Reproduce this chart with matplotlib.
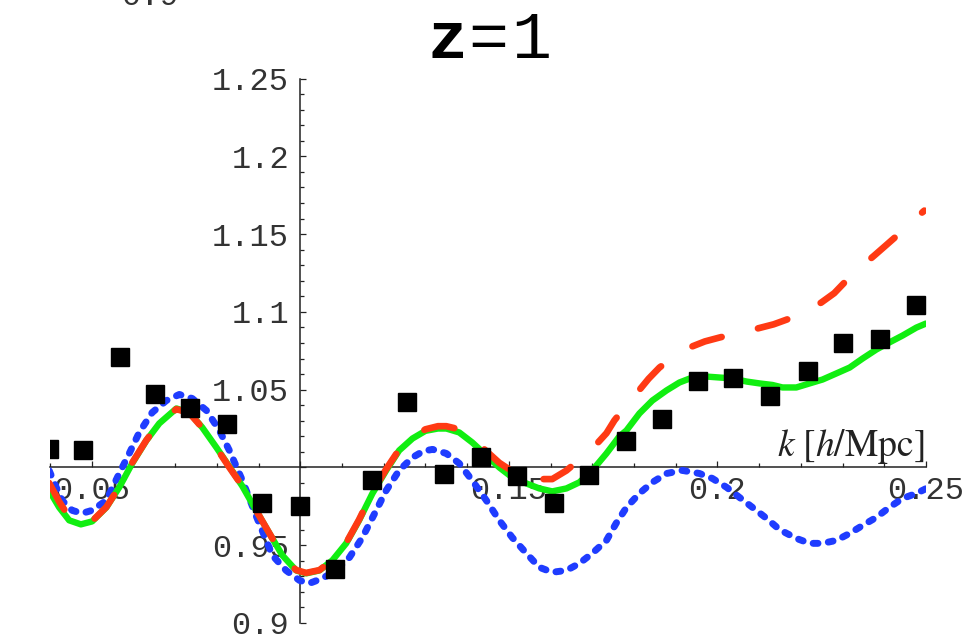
import matplotlib
matplotlib.use('Agg')
import matplotlib.pyplot as plt
from matplotlib.ticker import MultipleLocator

plt.rcParams['mathtext.fontset'] = 'stix'

# ---------------- data ----------------
# measured points (black squares)
pts_k = [0.0398, 0.0480, 0.0568, 0.0652, 0.0736, 0.0825, 0.0909, 0.1000,
         0.1084, 0.1173, 0.1257, 0.1345, 0.1434, 0.1520, 0.1609, 0.1693,
         0.1782, 0.1866, 0.1954, 0.2038, 0.2127, 0.2218, 0.2300, 0.2389, 0.2475]
pts_r = [1.0120, 1.0115, 1.0710, 1.0474, 1.0380, 1.0280, 0.9770, 0.9750,
         0.9350, 0.9917, 1.0420, 0.9960, 1.0064, 0.9947, 0.9770, 0.9949,
         1.0167, 1.0310, 1.0558, 1.0577, 1.0460, 1.0622, 1.0800, 1.0827, 1.1045]

# green solid curve
green_k = [0.0398, 0.0422, 0.0446, 0.0474, 0.0501, 0.0535, 0.0566, 0.0597, 0.0631,
           0.0662, 0.0703, 0.0734, 0.0765, 0.0799, 0.0830, 0.0861, 0.0894, 0.0926,
           0.0957, 0.0990, 0.1014, 0.1046, 0.1077, 0.1110, 0.1141, 0.1173, 0.1206,
           0.1237, 0.1269, 0.1300, 0.1330, 0.1350, 0.1381, 0.1412, 0.1446, 0.1477,
           0.1508, 0.1542, 0.1573, 0.1604, 0.1638, 0.1669, 0.1700, 0.1734, 0.1765,
           0.1782, 0.1813, 0.1844, 0.1878, 0.1909, 0.1940, 0.1974, 0.2005, 0.2036,
           0.2070, 0.2101, 0.2132, 0.2156, 0.2189, 0.2221, 0.2252, 0.2285, 0.2317,
           0.2348, 0.2381, 0.2412, 0.2444, 0.2477, 0.2500]
green_r = [0.9852, 0.9743, 0.9660, 0.9634, 0.9653, 0.9743, 0.9872, 1.0026, 1.0173,
           1.0283, 1.0379, 1.0353, 1.0257, 1.0128, 1.0005, 0.9880, 0.9724, 0.9576,
           0.9435, 0.9338, 0.9319, 0.9338, 0.9403, 0.9512, 0.9660, 0.9833, 0.9981,
           1.0109, 1.0186, 1.0235, 1.0250, 1.0250, 1.0225, 1.0161, 1.0077, 1.0000,
           0.9936, 0.9897, 0.9865, 0.9846, 0.9865, 0.9904, 0.9981, 1.0090, 1.0200,
           1.0238, 1.0347, 1.0430, 1.0495, 1.0546, 1.0578, 1.0584, 1.0578, 1.0572,
           1.0552, 1.0540, 1.0530, 1.0514, 1.0514, 1.0540, 1.0565, 1.0604, 1.0642,
           1.0700, 1.0758, 1.0803, 1.0848, 1.0899, 1.0925]

# red dashed curve
red_k = [0.0398, 0.0422, 0.0446, 0.0474, 0.0501, 0.0535, 0.0566, 0.0597, 0.0631,
         0.0662, 0.0703, 0.0734, 0.0765, 0.0799, 0.0830, 0.0861, 0.0894, 0.0926,
         0.0957, 0.0990, 0.1014, 0.1046, 0.1077, 0.1110, 0.1141, 0.1173, 0.1206,
         0.1237, 0.1269, 0.1300, 0.1330, 0.1350, 0.1381, 0.1412, 0.1446, 0.1477,
         0.1508, 0.1542, 0.1573, 0.1604, 0.1638, 0.1669, 0.1700, 0.1734, 0.1753,
         0.1782, 0.1808, 0.1835, 0.1861, 0.1895, 0.1933, 0.1970, 0.2005, 0.2050,
         0.2096, 0.2135, 0.2173, 0.2210, 0.2249, 0.2280, 0.2309, 0.2340, 0.2376,
         0.2405, 0.2436, 0.2466, 0.2496]
red_r = [0.9900, 0.9780, 0.9680, 0.9640, 0.9655, 0.9745, 0.9875, 1.0030, 1.0175,
         1.0285, 1.0375, 1.0350, 1.0255, 1.0125, 1.0000, 0.9880, 0.9724, 0.9576,
         0.9435, 0.9340, 0.9322, 0.9340, 0.9405, 0.9515, 0.9665, 0.9840, 0.9990,
         1.0115, 1.0195, 1.0245, 1.0265, 1.0265, 1.0245, 1.0185, 1.0105, 1.0030,
         0.9975, 0.9945, 0.9925, 0.9925, 0.9980, 1.0050, 1.0120, 1.0220, 1.0302,
         1.0400, 1.0482, 1.0570, 1.0642, 1.0710, 1.0771, 1.0810, 1.0835, 1.0865,
         1.0893, 1.0920, 1.0957, 1.1000, 1.1060, 1.1120, 1.1201, 1.1280, 1.1362,
         1.1430, 1.1503, 1.1580, 1.1651]

# blue dotted curve
blue_k = [0.0398, 0.0415, 0.0429, 0.0453, 0.0477, 0.0501, 0.0535, 0.0566, 0.0590,
          0.0614, 0.0645, 0.0679, 0.0710, 0.0741, 0.0775, 0.0806, 0.0830, 0.0861,
          0.0894, 0.0933, 0.0966, 0.0998, 0.1022, 0.1053, 0.1086, 0.1118, 0.1149,
          0.1182, 0.1206, 0.1237, 0.1269, 0.1295, 0.1317, 0.1350, 0.1381, 0.1412,
          0.1446, 0.1477, 0.1508, 0.1542, 0.1573, 0.1604, 0.1638, 0.1669, 0.1700,
          0.1734, 0.1757, 0.1782, 0.1813, 0.1844, 0.1878, 0.1916, 0.1957, 0.1988,
          0.2022, 0.2053, 0.2084, 0.2118, 0.2149, 0.2189, 0.2221, 0.2252, 0.2285,
          0.2317, 0.2348, 0.2381, 0.2412, 0.2444, 0.2477, 0.2501]
blue_r = [0.9980, 0.9872, 0.9788, 0.9724, 0.9705, 0.9724, 0.9788, 0.9961, 1.0090,
          1.0225, 1.0353, 1.0430, 1.0469, 1.0443, 1.0366, 1.0238, 1.0109, 0.9917,
          0.9690, 0.9435, 0.9338, 0.9274, 0.9255, 0.9287, 0.9338, 0.9422, 0.9550,
          0.9724, 0.9852, 0.9981, 1.0064, 1.0105, 1.0116, 1.0090, 1.0026, 0.9917,
          0.9788, 0.9660, 0.9550, 0.9448, 0.9358, 0.9326, 0.9338, 0.9383, 0.9448,
          0.9531, 0.9640, 0.9743, 0.9833, 0.9904, 0.9961, 0.9981, 0.9961, 0.9929,
          0.9872, 0.9807, 0.9743, 0.9672, 0.9600, 0.9544, 0.9512, 0.9512, 0.9531,
          0.9576, 0.9627, 0.9679, 0.9743, 0.9801, 0.9833, 0.9865]

xtick_vals = [0.05, 0.10, 0.15, 0.20, 0.25]
xtick_labels = ['0.05', '', '0.15', '0.2', '0.25']
ytick_vals = [0.90, 0.95, 1.00, 1.05, 1.10, 1.15, 1.20, 1.25]
ytick_labels = ['0.9', '0.95', '', '1.05', '1.1', '1.15', '1.2', '1.25']

title_parts = ['z', '=', '1']
xlabel = r'$k\ [h/\mathrm{Mpc}]$'

# ---------------- figure ----------------
W, H = 973, 638
fig = plt.figure(figsize=(W / 100, H / 100), dpi=100)
ax = fig.add_axes([50 / W, 1 - 623 / H, 876 / W, (623 - 78.5) / H])
ax.set_xlim(0.04, 0.25)
ax.set_ylim(0.9, 1.25)

for s in ('top', 'right'):
    ax.spines[s].set_visible(False)
ax.spines['left'].set_position(('data', 0.1))
ax.spines['bottom'].set_position(('data', 1.0))
for s in ('left', 'bottom'):
    ax.spines[s].set_color('#222222')
    ax.spines[s].set_linewidth(1.1)

mono = 'Liberation Mono'
ax.set_xticks(xtick_vals)
ax.set_xticklabels(xtick_labels, fontfamily=mono, fontsize=23, color='#333333')
ax.set_yticks(ytick_vals)
ax.set_yticklabels(ytick_labels, fontfamily=mono, fontsize=23, color='#333333')
ax.xaxis.set_minor_locator(MultipleLocator(0.01))
ax.yaxis.set_minor_locator(MultipleLocator(0.01))
ax.tick_params(which='major', direction='in', length=4.5, width=0.9, color='#222222')
ax.tick_params(which='minor', direction='in', length=3.0, width=0.9, color='#222222')
ax.tick_params(axis='y', which='major', pad=8)
ax.tick_params(axis='x', which='major', pad=6)

ax.plot(blue_k, blue_r, color='#1f3cff', lw=5.0, ls=(0, (0.7, 1.5)),
        dash_capstyle='round', zorder=3)
ax.plot(green_k, green_r, color='#11ee11', lw=4.6, solid_capstyle='round',
        solid_joinstyle='round', zorder=4)
ax.plot(red_k, red_r, color='#ff3a14', lw=4.8, ls=(0, (4.6, 5.6)),
        dash_capstyle='round', zorder=5)
ax.plot(pts_k, pts_r, ls='none', marker='s', ms=13.5, color='black', zorder=6)

ax.annotate(xlabel, xy=(0.25, 1.0), xytext=(-1, 8.5), textcoords='offset points',
            ha='right', va='baseline', fontsize=27, color='#222222')

# title "z=1"
fig.text(447 / W, 1 - 58 / H, title_parts[0], ha='center', va='baseline',
         fontfamily=mono, fontweight='bold', fontsize=48)
fig.text(488 / W, 1 - 58 / H, title_parts[1], ha='center', va='baseline',
         fontfamily=mono, fontsize=48)
fig.text(531 / W, 1 - 58 / H, title_parts[2], ha='center', va='baseline',
         fontfamily=mono, fontsize=48)

# partially visible label from the panel above
fig.text(150 / W, 1 - 5 / H, '0.9', ha='center', va='baseline',
         fontfamily=mono, fontsize=23, color='#333333')

fig.savefig('out.png', dpi=100)
